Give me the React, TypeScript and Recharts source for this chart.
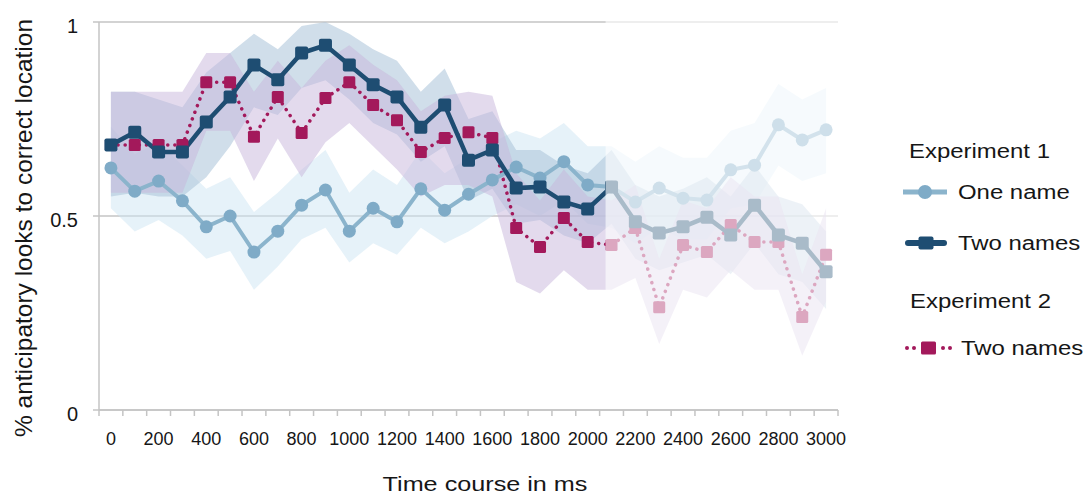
import React from 'react';
import {
  Area,
  CartesianGrid,
  ComposedChart,
  Label,
  Line,
  ReferenceArea,
  XAxis,
  YAxis,
} from 'recharts';

const timeMs = [
  0, 100, 200, 300, 400, 500, 600, 700, 800, 900, 1000, 1100, 1200, 1300, 1400, 1500,
  1600, 1700, 1800, 1900, 2000, 2100, 2200, 2300, 2400, 2500, 2600, 2700, 2800, 2900, 3000,
];

// Experiment 1, one name
const oneName = [
  0.624, 0.564, 0.59, 0.539, 0.472, 0.5, 0.407, 0.461, 0.528, 0.567, 0.461, 0.52, 0.485, 0.57, 0.515, 0.556,
  0.593, 0.626, 0.598, 0.64, 0.58, 0.575, 0.536, 0.572, 0.546, 0.541, 0.619, 0.631, 0.735, 0.696, 0.722,
];
const oneNameLow = [
  0.52, 0.46, 0.49, 0.45, 0.39, 0.41, 0.31, 0.37, 0.44, 0.47, 0.38, 0.43, 0.4, 0.47, 0.43, 0.46,
  0.5, 0.53, 0.5, 0.54, 0.48, 0.47, 0.43, 0.47, 0.44, 0.44, 0.52, 0.53, 0.63, 0.59, 0.61,
];
const oneNameHigh = [
  0.73, 0.66, 0.69, 0.63, 0.57, 0.6, 0.51, 0.56, 0.62, 0.67, 0.56, 0.62, 0.58, 0.67, 0.61, 0.65,
  0.69, 0.72, 0.7, 0.74, 0.68, 0.68, 0.64, 0.68, 0.65, 0.65, 0.72, 0.74, 0.84, 0.8, 0.83,
];

// Experiment 1, two names
const twoNames = [
  0.683, 0.716, 0.665, 0.665, 0.742, 0.807, 0.889, 0.851, 0.92, 0.94, 0.889, 0.838, 0.807, 0.729, 0.786, 0.644,
  0.67, 0.572, 0.575, 0.536, 0.518, 0.575, 0.485, 0.456, 0.472, 0.497, 0.451, 0.528, 0.451, 0.43, 0.356,
];
const twoNamesLow = [
  0.55, 0.56, 0.55, 0.55, 0.6, 0.68, 0.78, 0.76, 0.83, 0.85, 0.8, 0.74, 0.71, 0.64, 0.68, 0.54,
  0.57, 0.48, 0.49, 0.45, 0.43, 0.48, 0.39, 0.36, 0.38, 0.4, 0.35, 0.43, 0.35, 0.33, 0.26,
];
const twoNamesHigh = [
  0.82, 0.82, 0.8, 0.78, 0.87, 0.92, 0.97, 0.93, 0.99, 1.0, 0.97, 0.93, 0.9, 0.82, 0.88, 0.75,
  0.77, 0.67, 0.67, 0.63, 0.61, 0.67, 0.58, 0.55, 0.57, 0.6, 0.55, 0.63, 0.55, 0.53, 0.46,
];

// Experiment 2, two names
const exp2TwoNames = [
  0.683, 0.683, 0.683, 0.683, 0.845, 0.845, 0.704, 0.807, 0.714, 0.804, 0.845, 0.786, 0.747, 0.665, 0.701, 0.716,
  0.701, 0.469, 0.42, 0.495, 0.433, 0.425, 0.469, 0.265, 0.425, 0.407, 0.477, 0.433, 0.433, 0.24, 0.4,
];
const exp2Low = [
  0.56, 0.56, 0.56, 0.56, 0.72, 0.72, 0.59, 0.7, 0.6, 0.69, 0.74, 0.68, 0.62, 0.55, 0.58, 0.58,
  0.55, 0.33, 0.3, 0.36, 0.31, 0.31, 0.34, 0.17, 0.31, 0.29, 0.36, 0.31, 0.31, 0.14, 0.28,
];
const exp2High = [
  0.82, 0.82, 0.82, 0.82, 0.92, 0.92, 0.82, 0.9, 0.83, 0.9, 0.94, 0.89, 0.85, 0.77, 0.81, 0.82,
  0.81, 0.61, 0.54, 0.62, 0.55, 0.54, 0.58, 0.39, 0.54, 0.52, 0.6, 0.55, 0.55, 0.35, 0.52,
];

const yTicks = [0, 0.5, 1];
const xLabels = [0, 200, 400, 600, 800, 1000, 1200, 1400, 1600, 1800, 2000, 2200, 2400, 2600, 2800, 3000];
const fadeFrom = 2075;

const ONE = '#7fabc7';
const ONE_LINE = '#8bb4cc';
const NAVY = '#1e4d72';
const PINK = '#a3195b';
const AXIS = '#c4c4c4';
const TEXT = '#161616';
const FONT = '"Liberation Sans", Arial, sans-serif';

const data = timeMs.map((t, i) => ({
  t,
  one: oneName[i],
  oneBand: [oneNameLow[i], oneNameHigh[i]],
  two: twoNames[i],
  twoBand: [twoNamesLow[i], twoNamesHigh[i]],
  exp2: exp2TwoNames[i],
  exp2Band: [exp2Low[i], exp2High[i]],
}));

// tick marks sit between the time bins, labels on every second bin
const xTicks = [...timeMs.map((t) => t - 50), timeMs[timeMs.length - 1] + 50, ...xLabels].sort((a, b) => a - b);

function TimeTick(props: any) {
  const { x, y, payload } = props;
  const v = payload.value as number;
  if (v % 100 !== 0) {
    return <line x1={x} x2={x} y1={y} y2={y + 6} stroke={AXIS} strokeWidth={1.5} />;
  }
  if (v % 200 !== 0) return <g />;
  return (
    <text x={x} y={y + 35} textAnchor="middle" fontSize={18} fill={TEXT} fontFamily={FONT}>
      {v}
    </text>
  );
}

function ValueTick(props: any) {
  const { x, y, payload } = props;
  return (
    <text x={x} y={y + 11} textAnchor="end" fontSize={20} fill={TEXT} fontFamily={FONT}>
      {payload.value}
    </text>
  );
}

const circleDot = (p: any) => <circle key={`c-${p.index}`} cx={p.cx} cy={p.cy} r={6.5} fill={ONE} />;
const navyDot = (p: any) => (
  <rect key={`n-${p.index}`} x={p.cx - 6.5} y={p.cy - 6.5} width={13} height={13} rx={2} fill={NAVY} />
);
const pinkDot = (p: any) => (
  <rect key={`p-${p.index}`} x={p.cx - 6} y={p.cy - 6} width={12} height={12} rx={1.5} fill={PINK} />
);

function ChartLegend() {
  const ox = 880;
  const oy = 100;
  const txt = (x: number, y: number, s: string) => (
    <text
      transform={`translate(${x - ox} ${y - oy}) scale(1.14 1)`}
      fontSize={21}
      fill={TEXT}
      fontFamily={FONT}
    >
      {s}
    </text>
  );
  return (
    <svg width={205} height={280} style={{ position: 'absolute', left: ox, top: oy }}>
      {txt(909, 158, 'Experiment 1')}
      <line x1={903 - ox} x2={947 - ox} y1={192 - oy} y2={192 - oy} stroke={ONE_LINE} strokeWidth={5} />
      <circle cx={925 - ox} cy={192 - oy} r={7} fill={ONE} />
      {txt(958, 199, 'One name')}
      <line x1={908 - ox} x2={944 - ox} y1={243 - oy} y2={243 - oy} stroke={NAVY} strokeWidth={6} strokeLinecap="round" />
      <rect x={918.5 - ox} y={236.5 - oy} width={15} height={13} rx={2} fill={NAVY} />
      {txt(958, 250, 'Two names')}
      {txt(910, 308, 'Experiment 2')}
      {[907, 914, 943, 950].map((cx) => (
        <circle key={cx} cx={cx - ox} cy={348 - oy} r={2} fill={PINK} />
      ))}
      <rect x={921 - ox} y={341.5 - oy} width={15} height={13} rx={1.5} fill={PINK} />
      {txt(961, 355, 'Two names')}
    </svg>
  );
}

export default function App() {
  return (
    <div style={{ position: 'absolute', left: 0, top: 0, width: 1085, height: 497, background: '#fff' }}>
      <ComposedChart width={1085} height={497} data={data} margin={{ top: 22, right: 247, left: 0, bottom: 0 }}>
        <CartesianGrid vertical={false} stroke={AXIS} strokeWidth={1.5} />
        <XAxis
          dataKey="t"
          type="number"
          domain={[-50, 3050]}
          ticks={xTicks}
          interval={0}
          height={87}
          tickSize={0}
          tickMargin={0}
          tickLine={false}
          tick={<TimeTick />}
          axisLine={{ stroke: AXIS, strokeWidth: 1.5 }}
        >
          <Label
            content={() => (
              <text
                transform="translate(485 491) scale(1.2 1)"
                textAnchor="middle"
                fontSize={21}
                fill={TEXT}
                fontFamily={FONT}
              >
                Time course in ms
              </text>
            )}
          />
        </XAxis>
        <YAxis
          domain={[0, 1]}
          ticks={yTicks}
          width={99}
          tickSize={6}
          tickMargin={15}
          tick={<ValueTick />}
          tickLine={{ stroke: AXIS, strokeWidth: 1.5 }}
          axisLine={{ stroke: AXIS, strokeWidth: 1.5 }}
        >
          <Label
            content={() => (
              <text
                x={32}
                y={228}
                transform="rotate(-90 32 228)"
                textAnchor="middle"
                fontSize={24.5}
                fill={TEXT}
                fontFamily={FONT}
              >
                % anticipatory looks to correct location
              </text>
            )}
          />
        </YAxis>

        <Area dataKey="oneBand" type="linear" stroke="none" fill="#cde5f3" fillOpacity={0.5} dot={false} activeDot={false} isAnimationActive={false} />
        <Area dataKey="twoBand" type="linear" stroke="none" fill="#a9c2d9" fillOpacity={0.55} dot={false} activeDot={false} isAnimationActive={false} />
        <Area dataKey="exp2Band" type="linear" stroke="none" fill="#c8b5dc" fillOpacity={0.5} dot={false} activeDot={false} isAnimationActive={false} />

        <Line
          dataKey="exp2"
          type="linear"
          stroke={PINK}
          strokeWidth={3.5}
          strokeDasharray="0.1 7"
          strokeLinecap="round"
          dot={pinkDot}
          activeDot={false}
          isAnimationActive={false}
        />
        <Line dataKey="one" type="linear" stroke={ONE_LINE} strokeWidth={4} dot={circleDot} activeDot={false} isAnimationActive={false} />
        <Line dataKey="two" type="linear" stroke={NAVY} strokeWidth={4.5} dot={navyDot} activeDot={false} isAnimationActive={false} />

        <ReferenceArea
          x1={fadeFrom}
          x2={3050}
          y1={0.004}
          y2={1.02}
          fill="#ffffff"
          fillOpacity={0.62}
          stroke="none"
          ifOverflow="visible"
          zIndex={1100}
        />
      </ComposedChart>
      <ChartLegend />
    </div>
  );
}
